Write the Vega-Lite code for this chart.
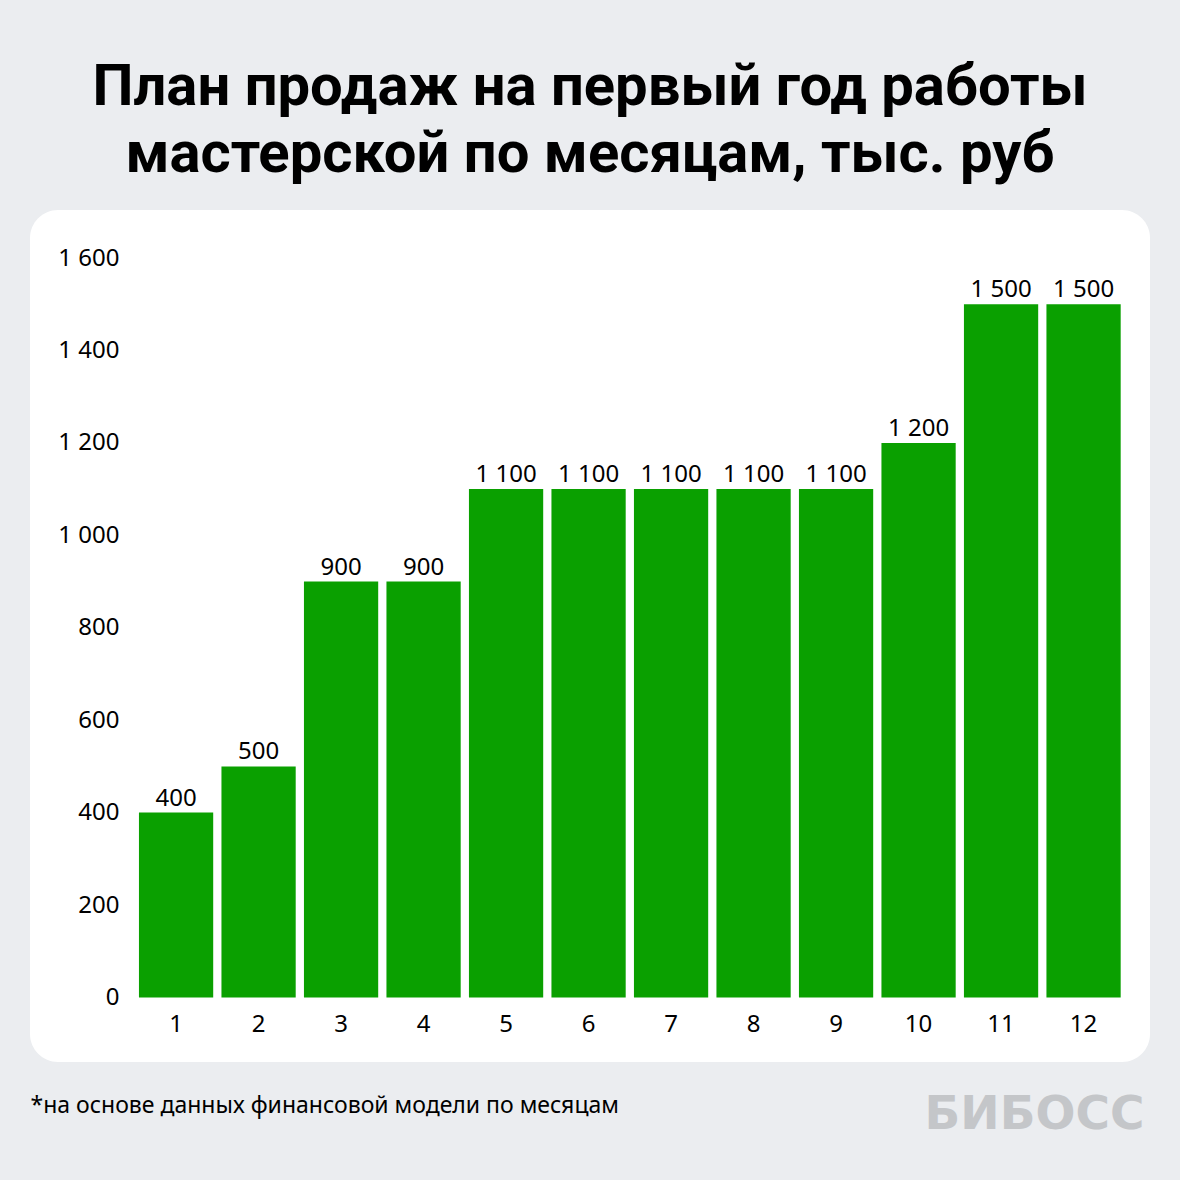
{
  "$schema": "https://vega.github.io/schema/vega-lite/v6.json",
  "autosize": "none",
  "width": 1120,
  "height": 852,
  "padding": {"left": 30, "top": 210, "right": 30, "bottom": 118},
  "background": "#ebedf0",
  "config": {
    "view": {"fill": "#ffffff", "stroke": null, "cornerRadius": 28},
    "locale": {"number": {"decimal": ",", "thousands": "\u00a0", "grouping": [3], "currency": ["", " ₽"]}}
  },
  "title": {
    "text": ["План продаж на первый год работы", "мастерской по месяцам, тыс. руб"],
    "font": "Roboto",
    "fontSize": 58,
    "fontWeight": "bold",
    "color": "#000000",
    "anchor": "middle",
    "frame": "group",
    "baseline": "bottom",
    "lineHeight": 67,
    "offset": -32
  },
  "data": {
    "values": [
      {"month": 1, "value": 400},
      {"month": 2, "value": 500},
      {"month": 3, "value": 900},
      {"month": 4, "value": 900},
      {"month": 5, "value": 1100},
      {"month": 6, "value": 1100},
      {"month": 7, "value": 1100},
      {"month": 8, "value": 1100},
      {"month": 9, "value": 1100},
      {"month": 10, "value": 1200},
      {"month": 11, "value": 1500},
      {"month": 12, "value": 1500}
    ]
  },
  "encoding": {
    "x": {
      "field": "month",
      "type": "ordinal",
      "scale": {"paddingInner": 0.1, "paddingOuter": 0.838, "align": 0.788},
      "axis": {
        "title": "*на основе данных финансовой модели по месяцам",
        "titleFont": "Noto Sans",
        "titleFontSize": 23,
        "titleFontWeight": "normal",
        "titleColor": "#000000",
        "titleAnchor": "start",
        "titleAlign": "left",
        "titleBaseline": "alphabetic",
        "titleX": 0,
        "titleY": 100,
        "offset": -50,
        "domain": false,
        "ticks": false,
        "tickSize": 0,
        "grid": false,
        "labelPadding": 0,
        "labelAngle": 0,
        "labelFont": "Noto Sans",
        "labelFontSize": 24,
        "labelColor": "#000000",
        "labelBaseline": "top"
      }
    },
    "y": {
      "field": "value",
      "type": "quantitative",
      "scale": {"domain": [-139.6, 1703.9], "nice": false, "zero": false},
      "axis": {
        "values": [0, 200, 400, 600, 800, 1000, 1200, 1400, 1600],
        "format": ",d",
        "title": "БИБОСС",
        "titleFont": "DejaVu Sans",
        "titleFontSize": 47,
        "titleFontWeight": "bold",
        "titleColor": "#c4c6c9",
        "titleAngle": 0,
        "titleAlign": "left",
        "titleBaseline": "alphabetic",
        "titleX": 805,
        "titleY": 918,
        "offset": -89,
        "domain": false,
        "ticks": false,
        "tickSize": 0,
        "grid": false,
        "labelPadding": 0,
        "labelFont": "Noto Sans",
        "labelFontSize": 24,
        "labelColor": "#000000",
        "labelAlign": "right",
        "labelBaseline": "middle"
      }
    }
  },
  "layer": [
    {
      "mark": {"type": "bar", "color": "#0aa000"},
      "encoding": {"y2": {"datum": 0}}
    },
    {
      "mark": {"type": "text", "font": "Noto Sans", "fontSize": 24, "color": "#000000", "baseline": "alphabetic", "dy": -7},
      "encoding": {"text": {"field": "value", "type": "quantitative", "format": ",d"}}
    }
  ]
}
